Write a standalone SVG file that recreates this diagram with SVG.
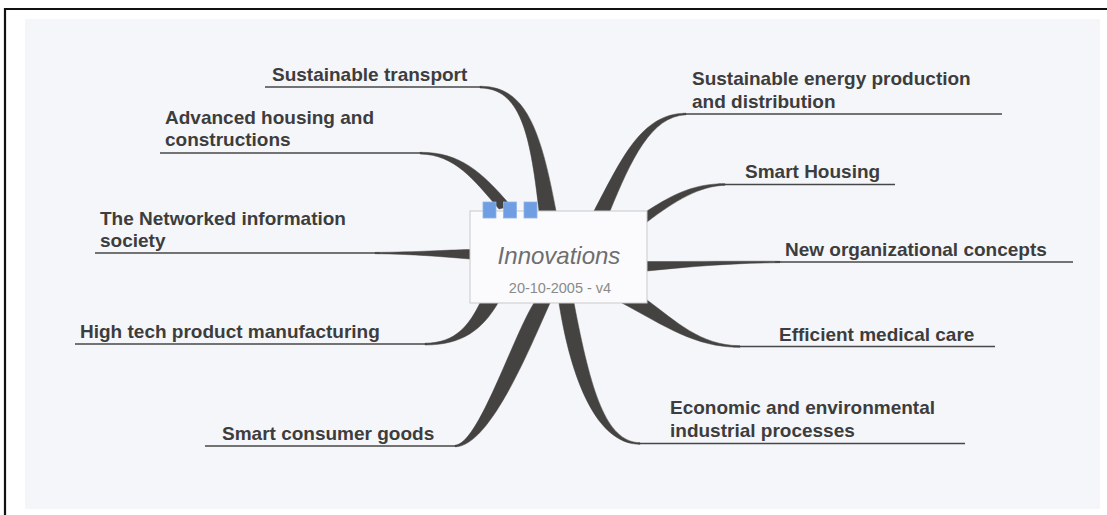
<svg xmlns="http://www.w3.org/2000/svg" width="1107" height="515" viewBox="0 0 1107 515">
<style>
.lbl{font-family:"Liberation Sans",Arial,sans-serif;font-size:19px;font-weight:bold;fill:#3d3d3d}
.ul{fill:none;stroke:#474747;stroke-width:1.6}
.wd{fill:#454341;stroke:#454341;stroke-width:0.5}
.sq{fill:#6f9fe2;stroke:#8fb4ea;stroke-width:0.8}
</style>
<rect x="0" y="0" width="1107" height="515" fill="#ffffff"/>
<rect x="25" y="19" width="1075" height="490" fill="#f5f6fa"/>
<path d="M5,515 L5,9 L1107,9" fill="none" stroke="#111" stroke-width="2.2"/>

<g id="connectors">
  <!-- Sustainable transport -->
  <path class="ul" d="M265,87 L482,87"/>
  <path class="wd" d="M480,86.3 C524,86 540,125 556,211 L539,211 C530,132 520,88.5 480,88 Z"/>
  <!-- Advanced housing -->
  <path class="ul" d="M160,153 L422,153"/>
  <path class="wd" d="M420,152.3 C460,152 482,172 511,206 L499,209 C474,180 455,154.5 420,154 Z"/>
  <!-- Networked -->
  <path class="ul" d="M95,253 L380,253"/>
  <path class="wd" d="M375,252.4 C420,252 445,250 470,249.5 L470,259 C440,256.5 410,254 375,253.7 Z"/>
  <!-- High tech -->
  <path class="ul" d="M75,344 L427,344"/>
  <path class="wd" d="M425,343.2 C456,343 469,325 480,303 L498,303 C482,330 462,345 425,345 Z"/>
  <!-- Smart consumer goods -->
  <path class="ul" d="M205,446 L457,446"/>
  <path class="wd" d="M455,445.2 C478,445 513,336 534,303 L550,303 C531,345 490,447 455,446.8 Z"/>
  <!-- Economic -->
  <path class="ul" d="M638,443.5 L965,443.5"/>
  <path class="wd" d="M559,303 C571,380 597,444.4 640,444.3 L640,442.7 C606,442 591,392 574,303 Z"/>
  <!-- Efficient medical -->
  <path class="ul" d="M733,346.5 L995,346.5"/>
  <path class="wd" d="M622,303 C665,326 695,347.4 740,347.3 L740,345.7 C700,345.5 676,321 647,300 Z"/>
  <!-- New org -->
  <path class="ul" d="M775,262 L1073,262"/>
  <path class="wd" d="M647,261.5 C700,261.5 740,261 780,261.3 L780,262.7 C740,263 700,265.5 647,271 Z"/>
  <!-- Smart Housing -->
  <path class="ul" d="M718,184.5 L895,184.5"/>
  <path class="wd" d="M647,211 C675,193 695,183.7 725,183.7 L725,185.3 C700,186 676,200 647,222 Z"/>
  <!-- Sustainable energy -->
  <path class="ul" d="M683,114 L1002,114"/>
  <path class="wd" d="M594,211 C621,160 641,113.2 686,113.2 L686,114.8 C651,116 631,160 610,211 Z"/>
</g>

<g id="center">
  <rect x="470" y="211" width="177" height="92" fill="#fbfbfd" stroke="#c9c9cc" stroke-width="1"/>
  <rect class="sq" x="483" y="202" width="13" height="16"/>
  <rect class="sq" x="503.5" y="202" width="13" height="16"/>
  <rect class="sq" x="524" y="202" width="13" height="16"/>
  <text x="559" y="264" text-anchor="middle" font-family="Liberation Sans, Arial, sans-serif" font-size="24" font-style="italic" fill="#6e6e6e">Innovations</text>
  <text x="560" y="293" text-anchor="middle" font-family="Liberation Sans, Arial, sans-serif" font-size="14.5" fill="#8a8a8a">20-10-2005 - v4</text>
</g>

<g id="n-transport"><text class="lbl" x="272" y="81">Sustainable transport</text></g>
<g id="n-housing"><text class="lbl" x="165" y="124">Advanced housing and</text><text class="lbl" x="165" y="146">constructions</text></g>
<g id="n-networked"><text class="lbl" x="100" y="225">The Networked information</text><text class="lbl" x="100" y="247">society</text></g>
<g id="n-hightech"><text class="lbl" x="80" y="338">High tech product manufacturing</text></g>
<g id="n-consumer"><text class="lbl" x="222" y="440">Smart consumer goods</text></g>
<g id="n-energy"><text class="lbl" x="692" y="85">Sustainable energy production</text><text class="lbl" x="692" y="108">and distribution</text></g>
<g id="n-smarthousing"><text class="lbl" x="745" y="178">Smart Housing</text></g>
<g id="n-neworg"><text class="lbl" x="785" y="256">New organizational concepts</text></g>
<g id="n-medical"><text class="lbl" x="779" y="341">Efficient medical care</text></g>
<g id="n-economic"><text class="lbl" x="670" y="414">Economic and environmental</text><text class="lbl" x="670" y="437">industrial processes</text></g>
</svg>
